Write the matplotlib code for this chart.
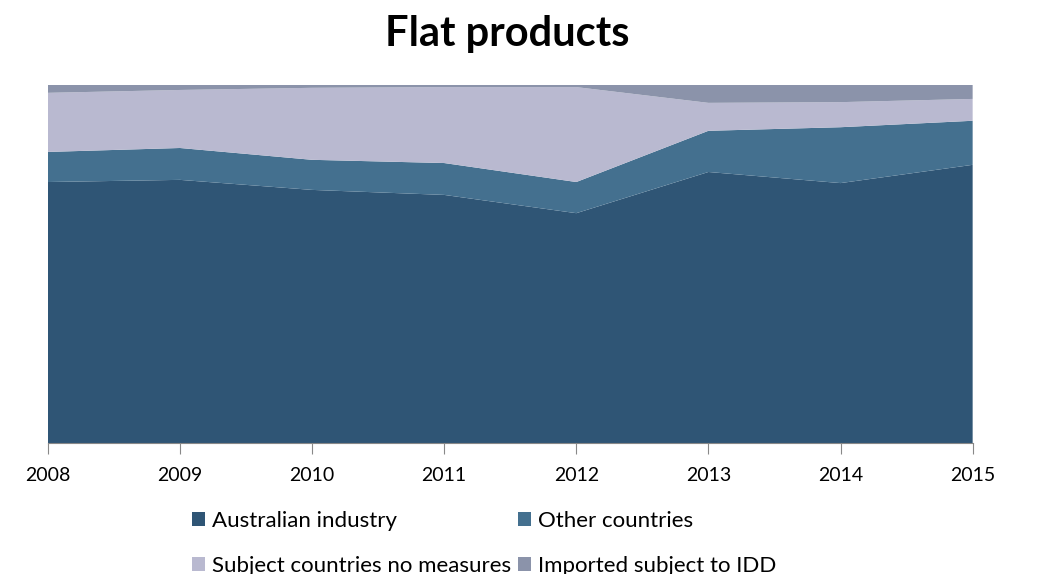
import numpy as np
import matplotlib.pyplot as plt
from matplotlib.patches import Patch

plt.rcParams['font.family'] = ['Lato', 'DejaVu Sans']

years = [2008, 2009, 2010, 2011, 2012, 2013, 2014, 2015]
australian = [72.9, 73.5, 70.7, 69.3, 64.2, 75.7, 72.6, 77.7]
other = [8.4, 8.9, 8.4, 8.9, 8.7, 11.5, 15.6, 12.3]
subject = [16.5, 16.2, 20.1, 21.2, 26.5, 7.8, 7.0, 6.1]
idd = [2.2, 1.4, 0.8, 0.6, 0.6, 5.0, 4.8, 3.9]

names = ['Australian industry', 'Other countries',
         'Subject countries no measures', 'Imported subject to IDD']
colors = ['#2f5575', '#44708f', '#b9b9d0', '#8b93aa']

fig = plt.figure(figsize=(10.63, 5.74), dpi=100)
ax = fig.add_axes([0.045, 0.228, 0.870, 0.624])
ax.stackplot(years, australian, other, subject, idd, colors=colors, lw=0)
ax.set_xlim(2008, 2015)
ax.set_ylim(0, 100)
ax.set_yticks([])
for s in ['left', 'right', 'top']:
    ax.spines[s].set_visible(False)
ax.spines['bottom'].set_color('#888888')
ax.set_xticks(years)
ax.tick_params(axis='x', length=8, color='#888888', labelsize=14, pad=9)

fig.text(0.477, 0.94, 'Flat products', fontsize=30, fontweight='bold',
         ha='center', va='center')

# legend reads row by row in the original: reorder for column-major fill
handles = [Patch(facecolor=c, edgecolor='none') for c in colors]
order = [0, 2, 1, 3]
fig.legend([handles[i] for i in order], [names[i] for i in order],
           loc='upper left', bbox_to_anchor=(0.172, 0.125),
           ncol=2, frameon=False, fontsize=16, handlelength=0.6,
           handleheight=0.6, handletextpad=0.3, columnspacing=0.3,
           labelspacing=1.1, borderaxespad=0)

fig.savefig('out.png', dpi=100)
